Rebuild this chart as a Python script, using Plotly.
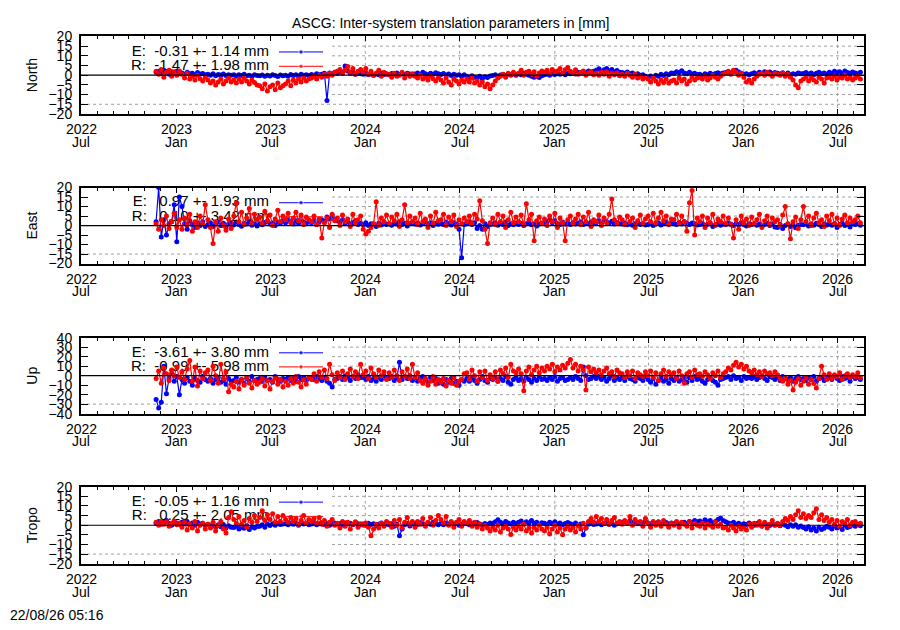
import pandas as pd
import plotly.graph_objects as go

# series are sampled every 5 days
dates = pd.date_range("2022-11-23", periods=273, freq="5D")

# North [mm]
north_e = [
    1.5, 2, 1, 2.5, 1.5, 0.5, 1.8, 1.2, 2, 1,
    1.2, 0.5, 1.5, 0.8, 1, 0.2, 1.4, 0.6, 0.9, 0.3,
    0.5, 0, 0.8, -0.3, 0.4, 0.1, 0.6, -0.2, 0.3, 0,
    0.2, -0.4, 0.3, -0.1, 0.5, -0.3, 0, -0.5, 0.2, -0.2,
    -0.3, 0.1, -0.6, 0, -0.4, 0.3, -0.2, -0.7, 0.1, -0.3,
    0, -0.5, 0.4, -0.2, 0.2, -0.4, 0.5, 0, 0.3, -0.1,
    0.4, 0, 0.8, 0.3, 0.5, 1, -13, 1.2, 0.6, 1.5,
    1, 2, 1.5, 4.8, 2.2, 1, 1.8, 0.5, 1.2, 0.8,
    0.5, 1, 0.2, 0.8, 0, 0.6, 0.3, 1, 0.4, 0.7,
    0.3, 0.9, 0.5, 1.2, 0.2, 0.8, 0.4, 1, 0.6, 0.1,
    0.6, 1.2, 0.4, 1.5, 0.8, 0.2, 1, 0.5, 1.3, 0.7,
    0.4, 0.9, 0.1, 0.6, -0.2, 0.5, 0, 0.3, -0.5, 0.2,
    -0.5, -1.2, -0.3, -1, -1.5, -0.6, -1.8, -0.8, -1.2, -0.4,
    -0.2, 0.3, -0.5, 0.1, 0.4, -0.1, 0.5, 0.2, 0.6, 0,
    0.8, 0.3, 1, 0.5, 0, -0.5, -1, -0.6, -1.2, -0.3,
    0.2, 0.6, 0, 0.8, 0.4, 1, 0.5, 0.9, 0.3, 1.1,
    0.8, 1.2, 0.6, 1.5, 1, 1.8, 1.3, 2.2, 1.6, 2,
    2.5, 3.3, 2, 2.8, 3.5, 2.2, 2.9, 1.8, 2.4, 1.5,
    1.4, 1, 1.6, 0.7, 1.2, 0.4, 0.8, 0, 0.3, -0.6,
    -1, -0.4, -1.3, 0, -0.6, 0.5, -0.2, 0.8, 0.3, 1.2,
    1, 1.8, 1.4, 2.3, 1.2, 0.8, 1.5, 0.6, 1, 0.4,
    0.5, -0.2, 0.8, 0.2, 1, 0.4, 0.9, 1.3, 0.7, 1.1,
    1.4, 1.8, 1.2, 2, 2.6, 1.6, 1, 0.5, 0.8, 0.2,
    0.8, 1.3, 0.6, 1.5, 1, 1.8, 1.2, 1.6, 0.9, 1.4,
    1, 0.6, 1.3, 0.4, 1.1, 0.2, 0.8, 0.5, 1.2, 0.7,
    0.9, 1.4, 0.6, 1.1, 0.3, 1, 1.5, 0.8, 1.2, 0.5,
    1.5, 1, 2, 1.3, 1.8, 0.9, 2.2, 1.4, 1, 1.6,
    1.2, 0.8, 1.5,
]
north_r = [
    2, 0.5, 3, -1, 1.5, 2.5, -0.5, 1.8, 0, 2.2,
    0.5, -1.5, 1, -2, -0.5, -2.5, 0, -1.8, -3, -1,
    -2.5, -4, -3, -5, -3.5, -2, -4.5, -3, -1.5, -3.5,
    -2.5, -4, -2, -3.5, -1.5, -3, -4.5, -2.5, -3.8, -5,
    -5.5, -7, -4.5, -8.2, -6, -5, -7.5, -4, -6.5, -5.5,
    -4.5, -3, -5.5, -2.5, -4, -2, -3.5, -1.5, -3, -2,
    -1.5, -0.5, -2, 0, -1, 0.5, -0.5, 1, 0, 1.5,
    2, 3, 1, 2.5, 4.5, 1.5, 3.5, 0.5, 2, 3,
    1.5, 3.5, 0.5, 2, 0, 1, 2.5, -0.5, 1.5, 0.5,
    0.5, -1, 1, -0.5, 0, 1.5, -1.5, 0.5, -0.5, 0.8,
    -0.5, -1.5, 0, -2, -1, -2.5, -0.5, -1.8, -3, -1.2,
    -2.5, -4, -1.5, -3.5, -5, -2, -3, -4.5, -2.5, -3.5,
    -2, -3.5, -1.5, -4, -3, -5, -3.5, -6, -4.5, -7,
    -5, -3, -1.5, -0.5, 0.5, -1, 1, 0, 1.5, 0.5,
    1, 2.5, 0, 1.5, 2, 0.5, 1.8, -0.5, 1.2, 2.2,
    1.5, 2.5, 0.8, 3, 1.8, 2.2, 3.5, 1.2, 2.8, 4,
    2, 1, 2.8, 0.5, 1.5, 2.2, 0, 1.2, 1.8, 0.3,
    1, 0, 1.5, 0.5, 1.8, -0.5, 1, 0.3, 1.2, -0.3,
    0.5, -0.5, 1, 0, -1, 0.5, -1.5, -0.5, -2, -1,
    -2, -3.5, -1.5, -3, -4.5, -2.5, -3.8, -2, -4, -3,
    -2.5, -4, -1.5, -3, -2, -4.5, -3, -1, -2.5, -1.5,
    -1, -2, -0.5, -2.5, -1.5, 0, -1, -2, -0.5, 0.5,
    1, 2, 0.5, 2.5, 1.5, 0, 1, -1, -3.5, -2.5,
    -4, -2, -0.5, 0.5, 1, 0, 1.5, 0.5, -0.5, 1,
    0.5, 0, 1, -0.5, 0.5, -1, -2.5, -5, -6.5, -3,
    -2, -1, -3, -1.5, -2.5, -3.5, -1, -2, -4, -1.5,
    -1, -2, -0.5, -2.5, -1, -1.5, 0, -2, -1, -2.5,
    -1.5, -0.5, -2,
]

# East [mm]
east_e = [
    2, 20, -6, 3, -5, 1, 2, 11, -8.5, 15,
    10, 1, -2, 2.5, 0.5, -1, 1.5, 0, 2, -0.5,
    0.5, 1.5, -0.5, 1, 2, 0, 1.2, -1, 0.8, 1.5,
    0.3, 1.8, 0.6, -0.4, 1.2, 0.8, 2, 0.2, 1, -0.2,
    1, 0.4, 1.6, 2.2, 0.8, 1.4, 0, 1.8, 1.2, 2.5,
    1.5, 3, 2, 0.8, 2.5, 1.2, 3.5, 1.8, 1, 2.2,
    1.5, 2.8, 0.5, 1.8, 3, 2.2, 4.5, 3.5, 5, 3,
    2.5, 1.5, 3, 1, 2, 0.8, 1.5, 2.5, 0.5, 1.2,
    0.5, 1.5, 0, 1, 0.8, -0.5, 1.2, 0.3, 1.8, 0.6,
    1, 0.2, 1.5, 0.8, 2, 0.5, 1.2, -0.3, 0.9, 1.6,
    0.8, 1.4, 0.3, 1, 2, 0.6, 1.5, 0, 1.1, 0.7,
    1.2, 0.5, 1.8, 1, 0.3, 1.5, 0.8, -2, -17, 0.5,
    1, 2, 0.5, 1.5, -1.5, 0, -2, 1, -0.5, 0.5,
    0.8, 1.5, 0.2, 1.2, 0.6, 1.8, 0, 1, 0.4, 1.3,
    0.6, 1.1, 0, 0.9, 1.5, 0.4, 1, -0.3, 0.8, 1.2,
    1, 2, 3, 1.5, 2.5, 1, 0.5, 1.8, 0.8, 1.2,
    0.5, 1.5, 0.8, 1.2, 2, 0.6, 1.4, 0.9, 1.8, 1,
    1.5, 2.5, 1, 3, 2, 1.2, 2.2, 0.8, 1.6, 1,
    0.8, 1.4, 0.4, 1, 0.2, 0.9, 1.5, 0.5, 1.1, 0.3,
    0.6, 1.2, 0, 0.8, 1.5, 0.3, 1, 1.8, 0.7, 1.3,
    1, 0.5, 1.6, 0.8, 2, 1.2, 0.6, 1.4, 0.9, 0.3,
    0.5, 0.9, 0, 0.7, 1.2, -0.5, 0.4, 1, 0.2, 0.8,
    0.5, 1.2, 0.8, 0, 1, 0.4, 1.5, 0.6, -0.3, 0.9,
    0.5, 1, 0.2, 0.8, -0.5, 0.6, 1.2, 0, 0.8, -0.8,
    -1, 0.5, -1.5, 0, 0.8, -0.5, 0.4, -1.2, 0.2, 0.6,
    0.4, 1, -0.3, 0.8, 0.2, 1.2, 0.6, -0.5, 0.9, 0.3,
    0.8, 0.2, 1, -1, 0.5, 1.2, 0, 0.7, -0.8, 1,
    0.5, 1, 0.2,
]
east_r = [
    1, -2, 3, 0, 5, -1.5, 2, 6.5, -1, 3,
    -2, 4, 0.5, 6, -3, 2, -1, 5, 1, 11,
    3, -1, -9.5, 2, -3, 4, 0, -2.5, 3.5, -1.5,
    5, 12, 2, 7, 0.5, 4, 9, 1.5, 6, 3,
    4.5, 1, 7.5, 2.5, 5.5, 0, 3.5, 8, 2, 5,
    3, 6.5, 1.5, 4, 7, 2.5, 5.5, 0.5, 4.5, 3,
    2, 5, 0.5, 3.5, -6.5, 1.5, 4, -1, 6, 2.5,
    4, 0, 5.5, 2, 3.5, -0.5, 6, 1.5, 3, 5,
    -2, -4.5, -3, -1, 1, 12.5, 0, 4, 2, 5.5,
    1, 4.5, 2.5, 6, -0.5, 3, 11, 1.5, 5, 2,
    4, 0.5, 6.5, 2, 3.5, -1, 5, 1, 7, 2.5,
    3, 6, 0, 4.5, 2, 5.5, -0.5, 3, 1, 4,
    2, 5, 1, 6, 3.5, 13, 2.5, -2, -9.5, 1.5,
    4, 0.5, 6, 2, 5, -1, 3, 7, 1.5, 4.5,
    2, 5.5, 0.5, 11.5, 3, 6, -8, 2.5, 4.5, 1,
    3.5, 0, 5, 2, 6.5, -1, 4, 1.5, -8, 3,
    5, 1, 3.5, 6, 0.5, 4.5, 2, 7, -0.5, 3,
    2, 5.5, 0, 4, 1.5, 6, 14, 3, 1, 4.5,
    3, 0.5, 5, 2, 4, -1, 2.5, 5.5, 1, 3.5,
    5, 2, 6.5, 1.5, 4, 7, 2.5, 5, 0.5, 3.5,
    3, 6, 1, 5, 2, -3, 12, 18.5, -5, 4,
    2, 5, -1, 4, 1.5, 6, 0, 3.5, 2, 5,
    1, 4, 0.5, -6.5, 3, -2, 5, 1.5, 3.5, 0,
    4.5, 1, 3, 6, -1, 2.5, 5, 0.5, 4, 2,
    3, 0, 5.5, 10, 1, -7, 2, 4.5, -1.5, 3,
    10, 2, 5, 0, 4, 6.5, 1.5, 3, -0.5, 5,
    2.5, 6, 1, 4, 0, 3.5, 5.5, 1.5, 4, 2,
    3, 5, 1.5,
]

# Up [mm]
up_e = [
    -25, -34, -28, 10, -19, -3, 2, -6, -1, -20,
    -4, -8, -2, -6, -10, -3, -5, -7, -1, -4,
    -6, -3, -8, -4, -2, -7, -5, -9, -3, -6,
    -5, -2, -7, -4, -8, -3, -6, -1, -5, -4,
    -3, -6, -2, -5, -4, -7, -1, -4, -6, -3,
    -4, -2, -5, -3, -6, -1, -4, -2, -5, -3,
    -2, -4, -1, -3, -5, -2, -6, -8, -12, -4,
    -3, -1, -4, 0, -2, -5, -1, -3, 1, -2,
    -2, -4, -1, -5, -3, -6, -2, -4, 0, -3,
    -3, -1, -5, -2, 14, -4, -1, -3, 0, -5,
    -2, -6, -3, -1, -4, -7, -2, -5, -3, -8,
    -5, -9, -4, -7, -3, -8, -6, -10, -4, -6,
    -3, -6, -2, -5, -8, -4, -1, -5, -7, -3,
    -4, -2, -6, -3, -5, -1, -7, -9, -4, -2,
    -5, -3, -6, -2, -4, -7, -3, -5, -1, -4,
    -3, -5, -2, -4, -1, -6, -3, -2, -5, -4,
    -2, -4, -1, -3, -5, 9, 0, -4, -3, -1,
    -3, -1, -4, -2, -6, -3, 0, -5, -2, -4,
    -2, -5, -1, -3, -4, -6, -2, -3, -5, -1,
    -4, -7, -3, -9, -5, -2, -6, -4, -8, -3,
    -5, -2, -6, -4, -3, -7, -2, -5, -1, -4,
    -3, -6, -8, -4, -2, -5, -7, -10, -4, -3,
    -2, -1, -4, 0, -3, -2, -5, -1, -3, -2,
    -3, -1, -4, -2, 0, -3, -5, -1, -2, -4,
    -2, -5, -1, -3, -4, -2, -6, -3, -1, -4,
    -3, -5, -2, -4, -1, -6, -3, -2, -5, -3,
    -2, -4, 0, -3, -5, -1, -3, -2, -6, -1,
    -3, -2, -4,
]
up_r = [
    -3, 5, -8, 8, 2, -5, 6, 0, 9, -2,
    4, -4, 7, 16, -6, 9, -11, 5, -3, 3,
    6, -5, 10, 0, -8, 12, -3, 4, -17, -9,
    -12, -6, -14, -4, -10, -2, -8, -13, -5, -9,
    -7, -3, -11, -5, -14, -6, -2, -9, -4, -12,
    -6, -10, -3, -8, -1, -7, -12, -4, -9, -2,
    -4, 2, -6, 4, -2, 6, -3, 12, 1, -5,
    3, -2, 5, -4, 2, 7, -1, 4, -3, 12,
    1, 5, -3, 8, 2, -2, 6, 0, 4, -4,
    3, -2, 6, 0, -5, 4, -1, 7, -3, 12,
    -2, 3, -5, -8, -3, -10, -6, -1, -9, -4,
    -7, -3, -11, -5, -8, -2, -10, -6, -4, 2,
    3, -4, 6, 0, -6, 4, -2, 5, -5, 1,
    -3, 4, -6, 6, 2, 8, -2, 12, 5, 3,
    7, 2, -16, 5, 9, 1, 6, 10, 3, 8,
    5, 10, 7, 12, 4, 9, 6, 11, 8, 13,
    17, 8, 12, 5, 10, 6, -15, 9, 4, 7,
    3, 6, 1, 5, 8, 2, 4, -1, 6, 3,
    2, -2, 4, 0, 5, -3, 3, 1, -1, 4,
    0, 5, -2, 3, -5, 2, 6, -1, 4, 1,
    3, -3, 5, 0, -8, 2, 4, -2, 6, 1,
    2, -1, 4, 1, -3, 3, 0, 5, -2, 2,
    4, 8, 6, 11, 14, 9, 12, 7, 10, 5,
    3, 6, 1, 4, -1, 5, 2, 3, 0, 4,
    1, -3, -6, -2, -9, -5, -15, -7, -3, -10,
    -6, -2, -9, -4, -8, -13, -3, 10, 1, -4,
    2, -3, 1, -1, 3, -4, 0, 2, -2, 1,
    -1, 3, -2,
]

# Tropo [mm]
tropo_e = [
    1, 2, 0.5, 1.5, 2.5, 1, 0, 1.8, 1.2, 0.5,
    1.5, 0.8, 2, 0.3, 1.2, 0, 1.6, 0.6, 1, -0.2,
    0.5, -0.5, 0.8, -1, 0.2, -0.8, 0.4, -1.5, -0.3, -1,
    -1.2, -0.5, -2, -1, -1.6, -0.3, -2.2, -0.8, -1.4, -0.6,
    -0.5, 0.3, -1, 0.6, -0.2, 0.8, 0, 1, 0.4, 0.7,
    0.8, 0.2, 1.2, 0.5, 1, 0, 1.4, 0.6, 0.9, 0.3,
    0.6, 1, 0.2, 0.8, 1.3, 0.4, 0.9, 0, 0.7, 1.1,
    0.5, 0.9, 0.1, 1.2, 0.6, 1, 0.3, 1.4, 0.8, 0.2,
    0.6, 0, 1, 0.4, 0.8, -0.3, 0.5, 1.1, 0.2, 0.7,
    0.3, 0.8, -0.5, 0.5, -5.5, -2, 0.2, 0.9, -0.4, 0.6,
    1, 0.4, 1.3, 0.7, 0, 1.1, 0.5, 1.5, 0.8, 0.2,
    0.9, 0.3, 1.2, 0.6, 1.6, 0.4, 1, 0, 0.7, 1.3,
    0.8, 0.2, 1, 0.5, 1.4, 0.6, 0.1, 0.9, 0.4, 1.2,
    1, 1.8, 2.8, 1.5, 0.8, 2, 1.2, 0.6, 1.5, 0.9,
    1.5, 2.2, 0.8, 1.8, 1.2, 2.5, 1, 1.6, 0.5, 1.3,
    1, 0.4, 1.5, 0.8, 1.8, 0.6, 1.2, 0.2, 0.9, 1.4,
    0.8, 0.3, 1.2, 0, 0.6, -5, -1.5, 0.5, 1, 0.4,
    0.6, 1.2, 0.2, 0.9, 1.5, 0.5, 1, 0, 0.8, 1.3,
    1.5, 2, 1, 2.4, 1.3, 1.8, 0.8, 1.6, 1.1, 2,
    1.2, 0.6, 1.5, 0.9, 1.8, 0.4, 1, 1.4, 0.7, 1.1,
    0.8, 1.3, 0.5, 1, 1.6, 0.9, 2, 1.4, 2.5, 1.8,
    2.2, 1.5, 2.8, 1.8, 2.4, 1.2, 2, 3, 3.7, 2.5,
    1.8, 1.2, 0.8, 1.5, 0.5, 1, 0.2, 0.8, 0.4, 1.1,
    0.5, 0, 0.9, 0.3, -0.4, 0.6, 0.2, -0.2, 0.7, 0.1,
    0.4, -0.3, 0.6, 0, -0.8, 0.3, -0.5, 0.2, -1, -0.4,
    -1.2, -2, -0.8, -2.5, -1.5, -3, -1, -2.2, -1.6, -0.5,
    -1, -2, -0.4, -1.5, -0.8, -2.2, 0, -1.2, -0.6, 0.3,
    -0.5, 0.2, -0.3,
]
tropo_r = [
    1.5, 0, 2, 0.5, 1.8, -0.5, 1, 2.2, 0.3, 1.2,
    -1, 1.5, -2.5, 0.5, -1.5, 2, -3, 0, 1, -2,
    0.5, -1.5, 1.5, -3, 0, 2, -2, -4, 4, 7,
    3, 1, 4.5, 0.5, 2.5, -1, 3.5, 1.5, 5, 2,
    4, 7.5, 2.5, 5.5, 3, 6, 1.5, 4.5, 2, 5,
    3, 1.5, 4, 2, 3.5, 0.5, 2.5, 5, 1, 3,
    2, 3.5, 1, 4, 0.5, 2.5, -0.5, 1.5, 3, 0,
    1, -1.5, 2, -0.5, 1.5, -2, 0.5, 1.8, -1, 0.8,
    0, 1.2, -1, -5.5, -2, 0.5, -1.5, 1, -0.5, 2,
    1, -1, 2.5, 0, 3, -1.5, 1.5, 4, 0.5, 2,
    -1, 2, 0.5, 3.5, -0.5, 1.5, 4, 0, 2.5, 5,
    3, 1, 4.5, 0, 2, -1, 1.5, 3, -0.5, 2,
    1, 2.5, -0.5, 1.5, -1, 0.5, -2, 0, -1.5, -3,
    -1, -2.5, 0, -3.5, -1.5, -0.5, -2, -4.8, -1, -2.5,
    -0.5, -2, 0.5, -3, -1.5, -4, -1, -2.5, 0, -2,
    -3, -1, -4.5, -2, 0, -3.5, -1.5, -5, -2, -0.5,
    -2.5, -1, -3.5, 0, -2, 1, -1.5, 2, 3.5, 1.5,
    4.5, 2, 3.5, 1, 3, 0.5, 2.5, 4, 1, 2,
    0.5, 2.5, 1, 4.5, 0, 3, 1.5, 2, -0.5, 3.5,
    1, -1, 2, 0, 1.5, -0.5, 2.5, 0.5, -1, 1,
    0, 2, -1, 1.5, 0.5, -0.5, 2, -1.5, 1, 0,
    -0.5, 1, -1.5, 0.5, 0, -1, 1.5, -0.5, 0.5, -1.5,
    -1, -2.5, 0, -1.5, -3, -0.5, -2, -1, -2.5, 0.5,
    -1, 1, 0, 2, -0.5, 1.5, -1.5, 0.5, 2.5, 0,
    1, 0, 2, 3.5, 2.5, 4.5, 3, 5.5, 7.5, 4,
    6, 3.5, 5, 4, 6.5, 8.5, 3, 5.5, 2.5, 4,
    1.5, 3, 0.5, 2.5, -0.5, 2, 1, 3, 0, 1.5,
    2, 0.5, 1,
]

panel_names = ["North", "East", "Up", "Tropo"]
panel_limits = [20, 20, 40, 20]
panel_steps = [5, 5, 10, 5]
series_e = [north_e, east_e, up_e, tropo_e]
series_r = [north_r, east_r, up_r, tropo_r]
key_e = ["E:  -0.31 +- 1.14 mm", "E:   0.97 +- 1.93 mm",
         "E:  -3.61 +- 3.80 mm", "E:  -0.05 +- 1.16 mm"]
key_r = ["R:  -1.47 +- 1.98 mm", "R:   0.10 +- 3.42 mm",
         "R:  -0.99 +- 5.98 mm", "R:   0.25 +- 2.05 mm"]

tick_dates = ["2022-07-01", "2023-01-01", "2023-07-01", "2024-01-01", "2024-07-01",
              "2025-01-01", "2025-07-01", "2026-01-01", "2026-07-01"]
tick_years = ["2022", "2023", "2023", "2024", "2024", "2025", "2025", "2026", "2026"]
tick_months = ["Jul", "Jan", "Jul", "Jan", "Jul", "Jan", "Jul", "Jan", "Jul"]

# page pixels (the page body adds an 8px offset to the figure)
W, H, OFF = 900, 630, 8
x_left, x_right = 81, 864
key_right = 332           # key box hides the grid left of this
key_bottom_frac = 0.19    # ... and above this fraction of the panel
panel_top = [29, 184, 338, 491]
panel_bot = [108.5, 262, 416, 570]
x_lo = pd.Timestamp("2022-07-01")
x_hi = pd.Timestamp("2026-08-21")
month_ticks = list(pd.date_range("2022-07-01", "2026-08-01", freq="MS"))

FONT = "Liberation Sans, Arial, sans-serif"
GRID = dict(color="#a0a0a0", width=1, dash="dot")


def fx(px):
    return (px - OFF) / W


def fy(py):
    return 1 - (py - OFF) / H


def px_to_date(px):
    return x_lo + (px - x_left) / (x_right - x_left) * (x_hi - x_lo)


fig = go.Figure()
shapes = []
annotations = []
key_frac = (key_right - x_left) / (x_right - x_left)

for k in range(4):
    sfx = "" if k == 0 else str(k + 1)
    xa, ya = "x" + sfx, "y" + sfx
    lim = panel_limits[k]
    step = panel_steps[k]

    def fval(f):
        return -lim + f * 2 * lim

    for label, vals, color, frac in [(key_e[k], series_e[k], "#0000ff", 0.80),
                                     (key_r[k], series_r[k], "#ff0000", 0.615)]:
        yk = fval(frac)
        # key text (right justified)
        fig.add_trace(go.Scatter(
            x=[px_to_date(269)], y=[yk], mode="text",
            text=[label.replace(" ", "\u00a0")], textposition="middle left",
            textfont=dict(family=FONT, size=15, color="black"),
            xaxis=xa, yaxis=ya, hoverinfo="skip", showlegend=False))
        # key sample
        fig.add_trace(go.Scatter(
            x=[px_to_date(279), px_to_date(301), px_to_date(323)], y=[yk, yk, yk],
            mode="lines+markers", line=dict(color=color, width=1),
            marker=dict(size=[0, 4.5, 0], color=color),
            xaxis=xa, yaxis=ya, hoverinfo="skip", showlegend=False))
        # data
        fig.add_trace(go.Scatter(
            x=dates[:len(vals)], y=vals, mode="lines+markers",
            line=dict(color=color, width=1.2),
            marker=dict(size=5, color=color),
            xaxis=xa, yaxis=ya, showlegend=False))

    fig.update_layout(**{
        "xaxis" + sfx: dict(
            type="date", domain=[fx(x_left), fx(x_right)], anchor=ya,
            range=[x_lo, x_hi], tickmode="array", tickvals=tick_dates,
            showticklabels=False,
            ticks="inside", ticklen=5, tickcolor="black", tickwidth=1,
            showline=True, linecolor="black", linewidth=2, mirror="allticks",
            showgrid=False, zeroline=False,
            minor=dict(tickmode="array", tickvals=month_ticks, ticks="inside",
                       ticklen=3, tickcolor="black", showgrid=False)),
        "yaxis" + sfx: dict(
            domain=[fy(panel_bot[k]), fy(panel_top[k])], anchor=xa,
            range=[-lim, lim], tickmode="linear", tick0=0, dtick=step,
            ticks="inside", ticklen=7, tickcolor="black", tickwidth=1,
            showline=True, linecolor="black", linewidth=2, mirror="allticks",
            showgrid=False, zeroline=False,
            tickfont=dict(family=FONT, size=14, color="black"),
            ticklabelstandoff=4),
    })

    # dotted grid, left out behind the key box
    v = -lim + step
    while v < lim:
        if v != 0:
            f = (v + lim) / (2 * lim)
            shapes.append(dict(type="line", xref=xa + " domain", yref=ya,
                               x0=key_frac if f > key_bottom_frac else 0, x1=1,
                               y0=v, y1=v, line=GRID, layer="below"))
        v += step
    for d in tick_dates[1:]:
        dpx = x_left + (pd.Timestamp(d) - x_lo) / (x_hi - x_lo) * (x_right - x_left)
        if dpx > key_right:
            shapes.append(dict(type="line", xref=xa, yref=ya + " domain",
                               x0=d, x1=d, y0=0, y1=1, line=GRID, layer="below"))

    # zero line on top of the data
    shapes.append(dict(type="line", xref=xa + " domain", yref=ya,
                       x0=0, x1=1, y0=0, y1=0,
                       line=dict(color="black", width=1.2), layer="above"))

    # two-line date labels
    for d, yr, mo in zip(tick_dates, tick_years, tick_months):
        for txt, dy in [(yr, 15.5), (mo, 28.5)]:
            annotations.append(dict(
                text=txt, xref=xa, yref="paper", x=d, y=fy(panel_bot[k] + dy),
                showarrow=False, xanchor="center", yanchor="middle",
                font=dict(family=FONT, size=14, color="black")))

    annotations.append(dict(
        text=panel_names[k], textangle=-90, xref="paper", yref="paper",
        x=fx(32), y=fy((panel_top[k] + panel_bot[k]) / 2),
        showarrow=False, xanchor="center", yanchor="middle",
        font=dict(family=FONT, size=14, color="black")))

annotations.append(dict(
    text="ASCG: Inter-system translation parameters in [mm]",
    xref="paper", yref="paper", x=fx(450), y=fy(15), showarrow=False,
    xanchor="center", yanchor="middle", font=dict(family=FONT, size=14, color="black")))
annotations.append(dict(
    text="22/08/26 05:16", xref="paper", yref="paper", x=fx(8), y=fy(623),
    showarrow=False, xanchor="left", yanchor="middle",
    font=dict(family=FONT, size=14, color="black")))

fig.update_layout(
    width=W, height=H, margin=dict(l=0, r=0, t=0, b=0),
    paper_bgcolor="white", plot_bgcolor="white", showlegend=False,
    font=dict(family=FONT, size=14, color="black"),
    shapes=shapes, annotations=annotations,
)

fig.write_html("out.html")
